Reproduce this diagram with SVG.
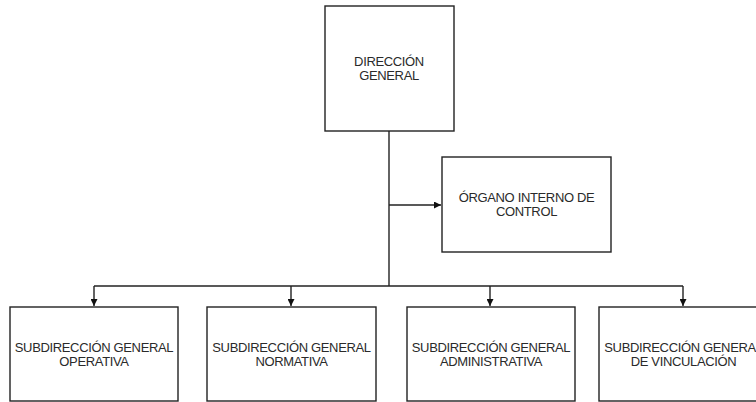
<svg xmlns="http://www.w3.org/2000/svg" width="756" height="402" viewBox="0 0 756 402">
<defs>
<style>
.box{fill:#fff;stroke:#222;stroke-width:1.4}
.ln{fill:none;stroke:#222;stroke-width:1.4}
text{font-family:"Liberation Sans",Arial,sans-serif;font-size:13px;fill:#2a2a2a;text-anchor:middle;letter-spacing:-0.35px}
</style>
<marker id="ah" viewBox="0 0 10 10" refX="10" refY="5" markerWidth="7" markerHeight="7" markerUnits="userSpaceOnUse" orient="auto">
<path d="M0,0 L10,5 L0,10 Z" fill="#111"/>
</marker>
</defs>
<rect width="756" height="402" fill="#fff"/>
<g id="connectors">
<path class="ln" d="M389,131 V286"/>
<path class="ln" d="M389,205 H441" marker-end="url(#ah)"/>
<path class="ln" d="M94,286 H683"/>
<path class="ln" d="M94,286 V306" marker-end="url(#ah)"/>
<path class="ln" d="M291,286 V306" marker-end="url(#ah)"/>
<path class="ln" d="M490,286 V306" marker-end="url(#ah)"/>
<path class="ln" d="M683,286 V306" marker-end="url(#ah)"/>
</g>
<g id="direccion-general">
<rect class="box" x="325" y="6" width="129" height="125"/>
<text x="389" y="66">DIRECCIÓN</text>
<text x="389" y="80">GENERAL</text>
</g>
<g id="organo-interno">
<rect class="box" x="442" y="157" width="169" height="95"/>
<text x="526.5" y="202">ÓRGANO INTERNO DE</text>
<text x="526.5" y="216">CONTROL</text>
</g>
<g id="sub-operativa">
<rect class="box" x="10" y="307" width="168" height="94"/>
<text x="94" y="352">SUBDIRECCIÓN GENERAL</text>
<text x="94" y="366">OPERATIVA</text>
</g>
<g id="sub-normativa">
<rect class="box" x="207" y="307" width="169" height="94"/>
<text x="291.5" y="352">SUBDIRECCIÓN GENERAL</text>
<text x="291.5" y="366">NORMATIVA</text>
</g>
<g id="sub-administrativa">
<rect class="box" x="407" y="307" width="168" height="94"/>
<text x="491" y="352">SUBDIRECCIÓN GENERAL</text>
<text x="491" y="366">ADMINISTRATIVA</text>
</g>
<g id="sub-vinculacion">
<rect class="box" x="599" y="307" width="169" height="94"/>
<text x="683.5" y="352">SUBDIRECCIÓN GENERAL</text>
<text x="683.5" y="366">DE VINCULACIÓN</text>
</g>
</svg>
